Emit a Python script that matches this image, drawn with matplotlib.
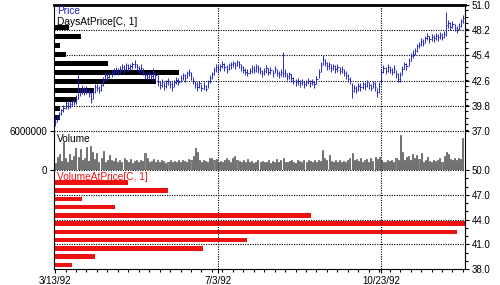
import matplotlib
matplotlib.use('Agg')
import matplotlib.pyplot as plt
import numpy as np
from matplotlib.ticker import MultipleLocator

plt.rcParams['font.family'] = ['Liberation Sans', 'DejaVu Sans']
plt.rcParams['font.size'] = 7

# ---------------- data ----------------
close = [38.0, 38.4, 38.9, 39.3, 39.6, 40.1, 39.8, 40.0, 40.3, 40.2,
         40.6, 41.5, 41.3, 41.8, 41.4, 41.6, 41.2, 40.6, 41.3, 41.9,
         41.8, 41.6, 42.1, 42.7, 43.2, 43.0, 43.3, 43.4, 43.7, 43.8,
         43.6, 43.9, 44.1, 43.9, 44.3, 44.0, 44.2, 44.4, 44.5, 44.1,
         43.9, 44.0, 43.6, 43.2, 43.0, 43.3, 43.1, 43.5, 43.2, 42.5,
         42.1, 42.4, 42.0, 42.3, 42.6, 42.2, 41.9, 42.4, 42.7, 42.5,
         42.9, 43.2, 42.9, 43.4, 43.6, 43.1, 42.6, 42.2, 41.9, 42.3,
         41.8, 42.0, 41.7, 42.4, 42.9, 43.3, 43.8, 44.1, 43.9, 44.2,
         44.5, 44.1, 43.9, 44.3, 44.4, 44.6, 44.3, 44.7, 44.5, 44.1,
         43.8, 43.6, 43.5, 43.7, 44.0, 43.8, 44.1, 43.9, 43.7, 43.4,
         43.7, 44.0, 43.6, 43.8, 43.4, 43.9, 43.5, 43.3, 43.6, 43.4,
         43.5, 43.1, 43.3, 42.9, 42.6, 42.4, 42.6, 42.3, 42.5, 42.2,
         42.4, 42.6, 42.3, 42.5, 42.2, 42.8, 43.6, 44.3, 45.0, 44.6,
         44.2, 44.4, 44.0, 44.2, 43.9, 44.1, 43.7, 43.9, 43.5, 43.2,
         42.8, 42.6, 41.4, 41.8, 41.6, 42.0, 41.9, 42.2, 42.0, 42.4,
         42.1, 41.8, 42.3, 41.9, 41.3, 42.0, 43.6, 44.0, 43.7, 44.1,
         43.8, 43.6, 43.9, 43.3, 42.8, 43.2, 43.9, 44.4, 44.2, 44.8,
         45.3, 45.6, 45.9, 46.4, 46.6, 47.0, 46.8, 47.3, 47.6, 47.2,
         47.5, 47.3, 47.6, 47.4, 47.7, 47.5, 47.8, 48.8, 49.0, 48.6,
         48.9, 48.5, 48.3, 48.7, 49.2, 49.6]
low = [37.6, 38.0, 38.3, 38.8, 39.1, 39.5, 39.4, 39.6, 39.8, 39.9,
       40.0, 40.6, 40.9, 41.1, 41.0, 41.1, 40.8, 40.1, 40.6, 41.2,
       41.4, 41.2, 41.5, 42.0, 42.6, 42.6, 42.9, 43.0, 43.2, 43.4,
       43.2, 43.4, 43.7, 43.5, 43.8, 43.7, 43.8, 43.9, 44.0, 43.7,
       43.5, 43.6, 43.2, 42.8, 42.7, 42.9, 42.8, 42.6, 42.7, 42.0,
       41.7, 41.9, 41.6, 41.8, 42.1, 41.8, 41.5, 41.9, 42.2, 42.1,
       42.4, 42.7, 42.5, 42.9, 43.1, 42.7, 42.2, 41.8, 41.5, 41.8,
       41.5, 41.6, 41.4, 41.8, 42.3, 42.8, 43.2, 43.6, 43.5, 43.7,
       44.0, 43.7, 43.5, 43.8, 43.9, 44.1, 43.9, 44.2, 44.0, 43.7,
       43.4, 43.2, 43.1, 43.3, 43.5, 43.4, 43.6, 43.5, 43.3, 43.0,
       43.2, 43.5, 43.2, 43.3, 43.0, 43.4, 43.1, 42.9, 43.1, 43.0,
       43.0, 42.7, 42.8, 42.5, 42.2, 42.0, 42.1, 41.9, 42.1, 41.8,
       42.0, 42.2, 41.9, 42.1, 41.8, 42.2, 42.9, 43.6, 44.3, 44.2,
       43.8, 43.9, 43.6, 43.8, 43.5, 43.6, 43.3, 43.4, 43.1, 42.8,
       42.4, 42.2, 40.7, 41.3, 41.2, 41.5, 41.5, 41.7, 41.6, 41.9,
       41.7, 41.4, 41.8, 41.4, 40.8, 41.2, 42.3, 43.5, 43.3, 43.6,
       43.4, 43.2, 43.5, 42.9, 42.4, 42.4, 43.2, 43.9, 43.8, 44.2,
       44.8, 45.1, 45.4, 45.8, 46.2, 46.5, 46.4, 46.8, 47.1, 46.8,
       47.0, 46.9, 47.1, 47.0, 47.2, 47.1, 47.3, 47.6, 48.4, 48.2,
       48.4, 48.1, 47.9, 48.2, 48.6, 49.0]
high = [38.4, 38.8, 39.1, 39.5, 39.9, 40.3, 40.2, 40.3, 40.5, 40.6,
        41.0, 43.2, 41.8, 42.1, 41.9, 42.0, 41.7, 41.3, 41.6, 42.2,
        42.2, 42.0, 42.4, 43.0, 43.5, 43.4, 43.6, 43.8, 44.0, 44.1,
        44.0, 44.2, 44.4, 44.3, 44.6, 44.4, 44.5, 44.7, 44.9, 44.5,
        44.2, 44.4, 44.0, 43.6, 43.4, 43.6, 43.5, 44.0, 43.6, 43.2,
        42.6, 42.8, 42.5, 42.7, 42.9, 42.6, 42.4, 42.7, 43.0, 42.9,
        43.2, 43.5, 43.3, 43.7, 43.9, 43.6, 43.0, 42.6, 42.4, 42.6,
        42.2, 42.4, 42.1, 42.7, 43.2, 43.6, 44.1, 44.4, 44.3, 44.5,
        44.8, 44.6, 44.3, 44.6, 44.7, 44.8, 44.7, 44.9, 44.8, 44.5,
        44.2, 44.0, 43.9, 44.0, 44.3, 44.2, 44.4, 44.3, 44.1, 43.8,
        44.0, 44.3, 44.0, 44.1, 43.8, 44.2, 43.9, 43.7, 43.9, 45.8,
        43.9, 43.5, 43.6, 43.3, 43.0, 42.8, 42.9, 42.7, 42.8, 42.6,
        42.7, 42.9, 42.7, 42.8, 42.6, 43.1, 43.9, 44.7, 45.4, 45.0,
        44.7, 44.7, 44.4, 44.5, 44.3, 44.4, 44.1, 44.2, 43.9, 43.7,
        43.3, 43.0, 42.3, 42.1, 42.0, 42.3, 42.3, 42.5, 42.4, 42.7,
        42.5, 42.2, 42.6, 42.4, 41.8, 42.4, 43.9, 44.3, 44.1, 44.4,
        44.2, 44.0, 44.3, 43.8, 43.4, 43.6, 44.2, 44.7, 44.6, 45.1,
        45.7, 46.0, 46.2, 46.7, 46.9, 47.3, 47.2, 47.6, 47.9, 47.6,
        47.8, 47.7, 47.9, 47.8, 48.0, 47.9, 48.1, 50.2, 49.3, 49.1,
        49.2, 48.9, 48.7, 49.0, 49.5, 49.9]
volume_m = [1.1, 2.0, 2.4, 1.4, 4.3, 1.8, 1.2, 2.5, 1.6, 2.2,
            3.4, 2.0, 3.3, 1.5, 1.9, 3.5, 1.4, 3.7, 2.8, 1.7,
            2.6, 1.2, 1.8, 3.0, 1.3, 1.6, 2.3, 1.5, 1.4, 1.9,
            1.3, 1.6, 1.2, 1.8, 1.5, 1.3, 1.7, 1.1, 1.4, 1.6,
            1.2, 1.5, 1.4, 2.6, 1.9, 1.2, 1.4, 1.7, 1.3, 1.5,
            1.2, 1.6, 1.4, 1.1, 1.3, 1.5, 1.2, 1.4, 1.3, 1.6,
            1.2, 1.5, 1.4, 1.3, 1.7, 1.5, 2.2, 3.4, 2.7, 1.5,
            1.3, 1.6, 1.4, 1.2, 1.8, 1.9, 1.5, 1.7, 1.3, 1.4,
            1.2, 1.5, 1.8, 1.6, 1.3, 1.9, 2.1, 1.6, 1.4, 1.2,
            1.5, 1.3, 1.7, 1.2, 1.4, 1.1, 1.3, 1.6, 1.2, 1.4,
            1.3, 1.2, 1.5, 1.1, 1.4, 1.3, 1.7, 1.2, 1.5, 1.9,
            1.3, 1.2, 1.4, 1.6, 1.3, 1.1, 1.5, 1.4, 1.2, 1.6,
            1.3, 1.5, 1.4, 1.2, 1.6, 1.3, 1.5, 1.4, 3.1, 1.8,
            1.5, 2.3, 1.4, 1.3, 1.6, 1.2, 1.5, 1.3, 1.4, 1.2,
            1.6, 1.8, 2.6, 1.5, 1.7, 1.4, 1.9, 1.3, 1.5, 1.7,
            1.3, 1.8, 1.4, 2.0, 1.7, 2.0, 1.6, 1.3, 1.2, 1.5,
            1.4, 1.6, 1.3, 1.8, 1.5, 5.4, 2.8, 1.6, 2.0, 2.2,
            1.5, 2.4, 1.9, 2.3, 1.7, 2.6, 1.3, 1.5, 2.0, 1.4,
            1.2, 1.6, 1.4, 1.5, 1.8, 1.3, 2.2, 2.8, 2.5, 1.7,
            1.6, 1.9, 1.5, 1.8, 1.7, 4.9]

bin_prices = [48.5, 47.5, 46.5, 45.5, 44.5, 43.5, 42.5, 41.5, 40.5, 39.5, 38.5]
days_at_price = [7, 13, 3, 6, 26, 60, 49, 19, 11, 3, 3]
vol_at_price_m = [12.7, 19.6, 4.8, 10.5, 44.1, 70.5, 69.1, 33.1, 25.6, 7.0, 3.1]

date_ticks = [0, 78, 156]
date_labels = ['3/13/92', '7/3/92', '10/23/92']
price_ticks = [37.0, 39.8, 42.6, 45.4, 48.2, 51.0]
vap_ticks = [38.0, 41.0, 44.0, 47.0, 50.0]
vol_ticks = [0, 6000000]
vol_labels = ['0', '6000000']

# ---------------- style ----------------
BLUE = '#1c1ccc'
RED = '#ee1111'
DOT = (0, (1, 1.2))
GRID_KW = dict(color='black', lw=0.8, linestyle=DOT)

fig = plt.figure(figsize=(5, 2.85), dpi=100)
fig.patch.set_facecolor('white')
L, W = 54 / 500, 411 / 500


def rect(top, bottom):
    return [L, (285 - bottom) / 285, W, (bottom - top) / 285]


ax_p = fig.add_axes(rect(5, 131))
ax_v = fig.add_axes(rect(131, 170), sharex=ax_p)
ax_a = fig.add_axes(rect(170, 269), sharex=ax_p)

n = len(close)
x = np.arange(n)
xlim = (-0.5, 196)

for ax in (ax_p, ax_v, ax_a):
    ax.patch.set_visible(False)
    ax.set_zorder(2)
    for s in ax.spines.values():
        s.set_linewidth(0.8)
    ax.tick_params(which='both', direction='out', width=0.8, labelsize=7,
                   pad=2, colors='black')
    ax.tick_params(which='major', length=3)
    ax.tick_params(which='minor', length=2)
    for xt in date_ticks[1:]:
        ax.axvline(xt, zorder=0.5, **GRID_KW)

# ---- price panel ----
ax_d = ax_p.twiny()
ax_d.set_zorder(1)
ax_d.patch.set_visible(False)
ax_d.barh(bin_prices, days_at_price, height=0.45, color='black', left=0)
ax_d.set_xlim(0, max(days_at_price) / 0.304)
ax_d.axis('off')

ax_p.vlines(x, low, high, color=BLUE, lw=0.65, zorder=3)
ax_p.hlines(close, x, x + 0.6, color=BLUE, lw=0.65, zorder=3)
ax_p.set_xlim(*xlim)
ax_p.set_ylim(37.0, 51.0)
ax_p.yaxis.tick_right()
ax_p.set_yticks(price_ticks, [f'{t:.1f}' for t in price_ticks])
ax_p.yaxis.set_minor_locator(MultipleLocator(0.7))
ax_p.tick_params(axis='x', which='both', bottom=False, labelbottom=False)
ax_p.spines['top'].set_linewidth(2.0)
ax_p.spines['bottom'].set_visible(False)
for t in price_ticks[:-1]:
    ax_p.axhline(t, zorder=0.5, clip_on=False, **GRID_KW)
ax_p.text(0.007, 0.995, 'Price', transform=ax_p.transAxes, color=BLUE,
          ha='left', va='top', fontsize=7.3)
ax_p.text(0.007, 0.905, 'DaysAtPrice[C, 1]', transform=ax_p.transAxes,
          color='black', ha='left', va='top', fontsize=7.3)

# ---- volume panel ----
vol = np.array(volume_m) * 1e6
ax_v.bar(np.arange(len(vol)), vol, width=0.5, color='#8a8a8a',
         edgecolor='#333333', linewidth=0.4, zorder=3)
ax_v.set_ylim(0, 6000000)
ax_v.set_yticks(vol_ticks, vol_labels)
ax_v.yaxis.tick_left()
ax_v.tick_params(axis='x', which='both', bottom=False, labelbottom=False)
ax_v.spines['top'].set_visible(False)
ax_v.spines['bottom'].set_visible(False)
ax_v.text(0.007, 0.93, 'Volume', transform=ax_v.transAxes, color='black',
          ha='left', va='top', fontsize=7.3)

# ---- volume at price panel ----
ax_b = ax_a.twiny()
ax_b.set_zorder(1)
ax_b.patch.set_visible(False)
ax_b.barh(bin_prices, vol_at_price_m, height=0.55, color=RED, left=0)
ax_b.set_xlim(0, max(vol_at_price_m))
ax_b.axis('off')

ax_a.set_ylim(38.0, 50.0)
ax_a.yaxis.tick_right()
ax_a.set_yticks(vap_ticks, [f'{t:.1f}' for t in vap_ticks])
ax_a.yaxis.set_minor_locator(MultipleLocator(1.0))
ax_a.spines['top'].set_visible(False)
for t in vap_ticks[1:]:
    ax_a.axhline(t, zorder=0.5, clip_on=False, **GRID_KW)
ax_a.set_xticks(date_ticks, date_labels)
ax_a.xaxis.set_minor_locator(MultipleLocator(5))
ax_a.set_xlim(*xlim)
ax_a.text(0.007, 0.975, 'VolumeAtPrice[C, 1]', transform=ax_a.transAxes,
          color=RED, ha='left', va='top', fontsize=7.3)

fig.savefig('out.png', dpi=100)
